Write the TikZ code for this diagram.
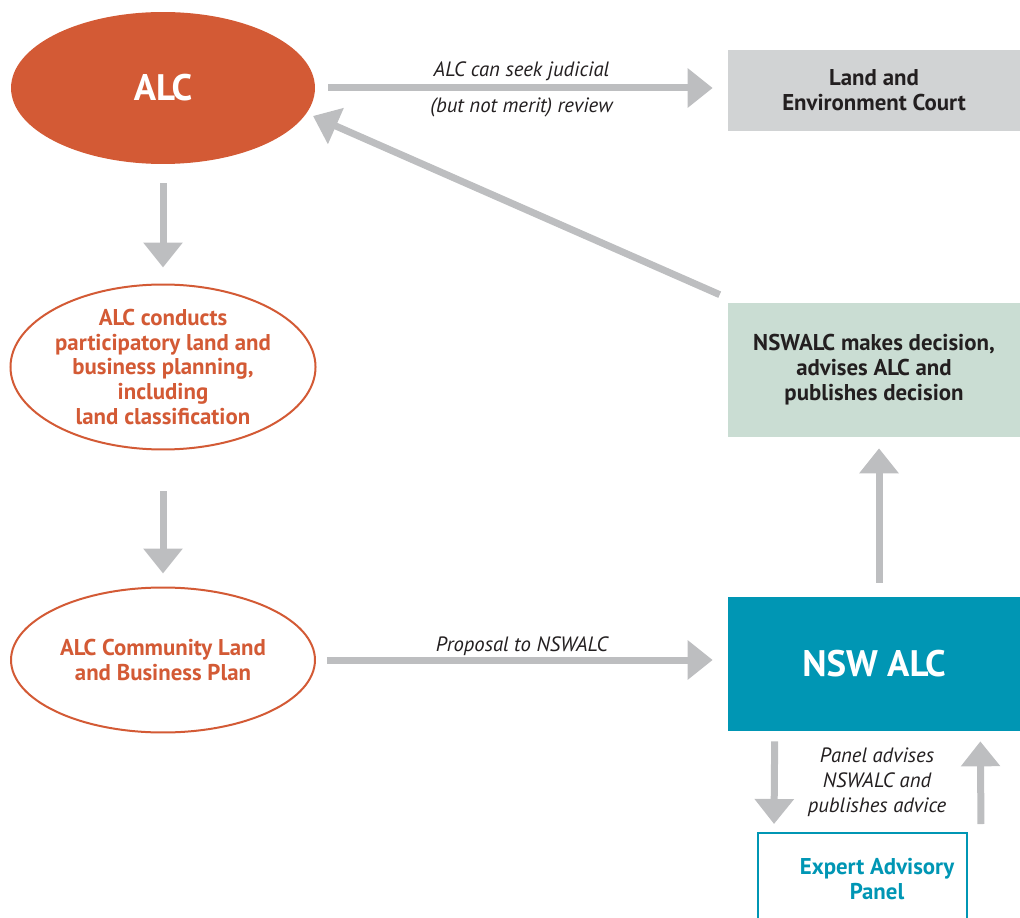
\documentclass[tikz,border=0pt]{standalone}
\usepackage{fontspec}
\setmainfont{PT Sans}
\usetikzlibrary{shapes,arrows.meta,calc,positioning}

\definecolor{alcorange}{HTML}{D35A35}
\definecolor{arrowgrey}{HTML}{BDBEC0}
\definecolor{courtgrey}{HTML}{D1D3D4}
\definecolor{decisiongreen}{HTML}{CADDD3}
\definecolor{nswteal}{HTML}{0096B4}
\definecolor{darktext}{HTML}{231F20}

\begin{document}
\begin{tikzpicture}[x=0.02cm,y=-0.02cm,
    ell/.style={ellipse,minimum width=6.08cm,inner sep=0pt,align=center,font=\fontsize{13}{14.2}\selectfont\bfseries},
    box/.style={rectangle,minimum width=5.84cm,minimum height=2.68cm,inner sep=0pt,align=center,font=\fontsize{13}{14.2}\selectfont\bfseries},
    arr/.style={draw=arrowgrey,line width=0.14cm,-{Triangle[width=0.76cm,length=0.5cm]}},
    lbl/.style={font=\fontsize{11.8}{14.2}\selectfont\itshape,text=darktext,align=center}]

        \useasboundingbox (0,0) rectangle (1020,918);

        \node [ell, fill=alcorange, minimum height=3.04cm, text=white, font=\fontsize{21}{24}\selectfont\bfseries] (alc) at (163,88) {ALC};
        \node [ell, draw=alcorange, line width=0.04cm, minimum height=3.3cm, text=alcorange] (plan) at (163,367)
            {ALC conducts\\participatory land and\\business planning,\\including\\land classification};
        \node [ell, draw=alcorange, line width=0.04cm, minimum height=2.9cm, text=alcorange] (clbp) at (163,660)
            {ALC Community Land\\and Business Plan};

        \node [box, fill=courtgrey, minimum height=1.62cm, text=darktext] (court) at (874,90.5) {Land and\\Environment Court};
        \node [box, fill=decisiongreen, text=darktext] (decision) at (874,370) {NSWALC makes decision,\\advises ALC and\\publishes decision};
        \node [box, fill=nswteal, text=white, font=\fontsize{21}{24}\selectfont\bfseries] (nsw) at (874,664) {NSW ALC};
        \node [box, draw=nswteal, line width=0.04cm, minimum width=4.18cm, minimum height=2cm, text=nswteal] (panel) at (862.5,883)
            {};
        \node [lbl, text=nswteal, font=\fontsize{13}{14.2}\selectfont\bfseries] (paneltext) at (877,879) {Expert Advisory\\Panel};

        \draw [arr, shorten <=0.26cm, shorten >=0.3cm] (alc.east) -- (alc.east -| court.west)
            node [lbl, midway, above=-0.04cm] (seek) {ALC can seek judicial}
            node [lbl, midway, below=0cm] (merit) {(but not merit) review};
        \draw [arr, shorten <=0.38cm, shorten >=0.32cm] (alc.south) -- (plan.north);
        \draw [arr, shorten <=0.82cm, shorten >=0.26cm] (plan.south) -- (clbp.north);
        \draw [arr, shorten <=0.22cm, shorten >=0.3cm] (clbp.east) -- (clbp.east -| nsw.west)
            node [lbl, midway, above=-0.1cm] (proposal) {Proposal to NSWALC};
        \draw [arr, shorten <=0.28cm, shorten >=0.22cm] ([xshift=0.1cm]nsw.north) -- ([xshift=0.1cm]decision.south);

        \coordinate (diagtip) at (313,116);
        \draw [arr] ([xshift=-0.16cm,yshift=0.16cm]decision.north west) -- (diagtip);

        \draw [arr] ([xshift=0.94cm,yshift=-0.2cm]nsw.south west) -- ([xshift=0.34cm,yshift=0.16cm]panel.north west);
        \draw [arr] ([xshift=0.26cm,yshift=0.16cm]panel.north east) -- ([xshift=-0.8cm,yshift=-0.2cm]nsw.south east);

        \node [lbl] (advises) at (877,782) {Panel advises\\NSWALC and\\publishes advice};
        \end{tikzpicture}
\end{document}
